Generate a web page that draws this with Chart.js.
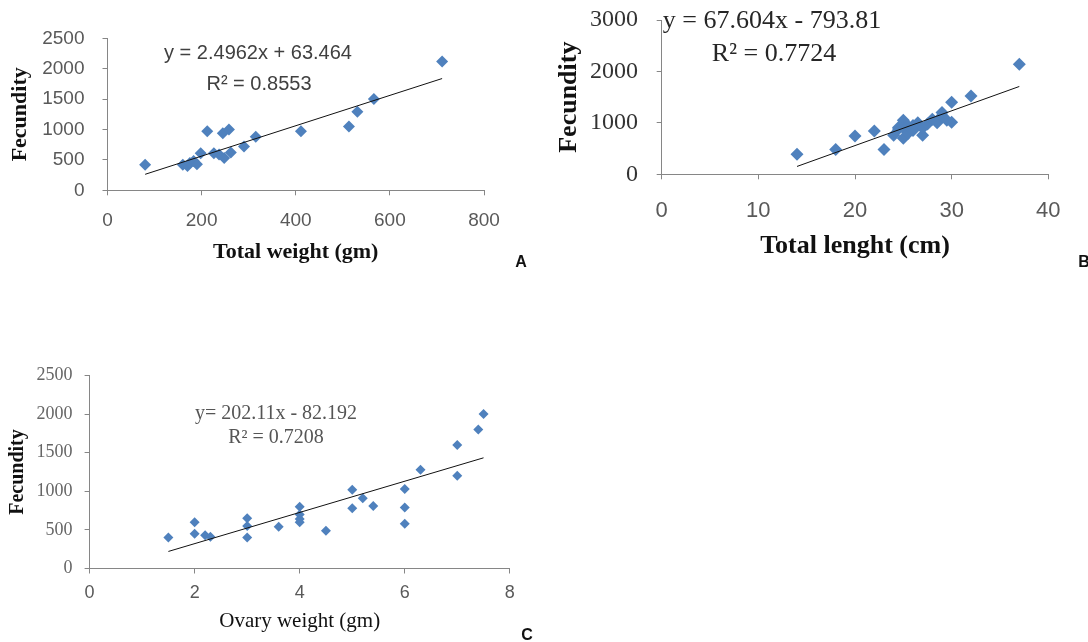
<!DOCTYPE html>
<html lang="en">
  <head>
    <meta charset="UTF-8" />
    <title>Fecundity relationships</title>
    <script src="https://cdn.jsdelivr.net/npm/chart.js"></script>
    <style>
      body {
        margin: 0;
        background: #fff;
        width: 1088px;
        height: 642px;
        position: relative;
        overflow: hidden;
      }
      canvas {
        position: absolute;
      }
      .note {
        position: absolute;
        white-space: nowrap;
        transform: translate(-50%, -50%);
        line-height: 1;
      }
      .eqA { font: 20px "Liberation Sans", Arial, sans-serif; color: #404040; }
      .eqB { font: 26px "Liberation Serif", "Times New Roman", serif; color: #262626; }
      .eqC { font: 20px "Liberation Serif", "Times New Roman", serif; color: #555; }
      .tag { font: bold 16px "Liberation Sans", Arial, sans-serif; color: #111; }
    </style>
  </head>
  <body>
    <canvas id="chartA" width="540" height="280" style="left:0;top:0"></canvas>
    <canvas id="chartB" width="548" height="280" style="left:540px;top:0"></canvas>
    <canvas id="chartC" width="540" height="302" style="left:0;top:340px"></canvas>

    <div class="note eqA" style="left:258px;top:52px">y = 2.4962x + 63.464</div>
    <div class="note eqA" style="left:259px;top:83px">R² = 0.8553</div>
    <div class="note eqB" style="left:772px;top:20px">y = 67.604x - 793.81</div>
    <div class="note eqB" style="left:774px;top:53px">R² = 0.7724</div>
    <div class="note eqC" style="left:276px;top:412px">y= 202.11x - 82.192</div>
    <div class="note eqC" style="left:276px;top:436px">R² = 0.7208</div>
    <div class="note tag" style="left:521px;top:262px">A</div>
    <div class="note tag" style="left:1084px;top:262px">B</div>
    <div class="note tag" style="left:527px;top:635px">C</div>

    <script>
      // A: total weight (gm) vs fecundity
      const weightX = [80, 160, 170, 175, 183, 190, 198, 212, 226, 237, 245, 248, 258, 262, 290, 315, 411, 513, 531, 566, 711];
      const weightFec = [420, 420, 400, 450, 480, 430, 610, 970, 610, 590, 940, 530, 1000, 620, 720, 880, 970, 1050, 1290, 1500, 2120];
      const weightFit = [2.4962, 63.464]; // slope, intercept
      const weightRange = [80, 711];

      // B: total length (cm) vs fecundity
      const lengthX = [14, 18, 20, 22, 23, 24, 24.5, 24.5, 25, 25, 25, 25.5, 25.5, 26, 26, 26.5, 27, 27, 27.5, 28, 28.5, 29, 29, 29.5, 30, 30, 32, 37];
      const lengthFec = [390, 480, 745, 840, 480, 760, 880, 910, 1050, 700, 900, 800, 940, 950, 850, 1000, 760, 900, 980, 1070, 1000, 1140, 1200, 1050, 1400, 1010, 1520, 2140];
      const lengthFit = [67.604, -793.81];
      const lengthRange = [14, 37];

      // C: ovary weight (gm) vs fecundity
      const ovaryX = [1.5, 2, 2, 2.2, 2.3, 3, 3, 3, 3.6, 4, 4, 4, 4, 4.5, 5, 5, 5.2, 5.4, 6, 6, 6, 6.3, 7, 7, 7.4, 7.5];
      const ovaryFec = [400, 600, 450, 430, 410, 650, 550, 400, 540, 800, 700, 640, 600, 490, 1020, 780, 910, 810, 1030, 790, 580, 1280, 1600, 1200, 1800, 2000];
      const ovaryFit = [202.11, -82.192];
      const ovaryRange = [1.5, 7.5];

      const blue = "#4F81BD";
      const axisGrey = "#868686";

      const pairs = (xs, ys) => xs.map((x, i) => ({ x: x, y: ys[i] }));
      const fitLine = (fit, range) => range.map((x) => ({ x: x, y: fit[0] * x + fit[1] }));
      const plain = (v) => String(v);

      function makeChart(id, s) {
        return new Chart(document.getElementById(id), {
          type: "scatter",
          data: {
            datasets: [
              {
                data: fitLine(s.fit, s.range),
                showLine: true,
                borderColor: "#111",
                borderWidth: 1,
                pointRadius: 0,
              },
              {
                data: pairs(s.xs, s.ys),
                pointStyle: "rectRot",
                pointRadius: s.radius,
                backgroundColor: blue,
                borderWidth: 0,
              },
            ],
          },
          options: {
            responsive: false,
            animation: false,
            devicePixelRatio: 1,
            layout: { padding: s.pad },
            plugins: { legend: { display: false }, tooltip: { enabled: false } },
            scales: {
              x: {
                min: s.xMin,
                max: s.xMax,
                ticks: { stepSize: s.xStep, font: s.xTickFont, color: "#595959", padding: s.xTickPad, callback: plain },
                grid: { drawOnChartArea: false, color: axisGrey, tickLength: 5 },
                border: { color: axisGrey },
                title: { display: true, text: s.xTitle, font: s.xTitleFont, color: "#111", padding: { top: 0, bottom: s.xTitlePad } },
                afterFit: (scale) => {
                  scale.height = s.xHeight;
                  scale.paddingLeft = 0;
                  scale.paddingRight = 0;
                },
              },
              y: {
                min: 0,
                max: s.yMax,
                ticks: { stepSize: s.yStep, font: s.yTickFont, color: s.yTickColor, padding: s.yTickPad, callback: plain },
                grid: { drawOnChartArea: false, color: axisGrey, tickLength: 5 },
                border: { color: axisGrey },
                title: { display: true, text: "Fecundity", font: s.yTitleFont, color: "#111", padding: { top: s.yTitlePad, bottom: 0 } },
                afterFit: (scale) => {
                  scale.width = s.yWidth;
                  scale.paddingTop = 0;
                  scale.paddingBottom = 0;
                },
              },
            },
          },
        });
      }

      const sans = "'Liberation Sans', Arial, sans-serif";
      const serif = "'Liberation Serif', 'Times New Roman', serif";

      makeChart("chartA", {
        xs: weightX, ys: weightFec, fit: weightFit, range: weightRange, radius: 6,
        pad: { left: 0, top: 38.3, right: 56, bottom: 0 },
        xMin: 0, xMax: 800, xStep: 200, yMax: 2500, yStep: 500,
        xTickFont: { family: sans, size: 19 }, xTickPad: 14,
        yTickFont: { family: sans, size: 19 }, yTickColor: "#595959", yTickPad: 18,
        xTitle: "Total weight (gm)", xTitleFont: { family: serif, size: 22, weight: "bold" }, xTitlePad: 14,
        yTitleFont: { family: serif, size: 22, weight: "bold" }, yTitlePad: 7,
        xHeight: 89.7, yWidth: 107.5,
      });

      makeChart("chartB", {
        xs: lengthX, ys: lengthFec, fit: lengthFit, range: lengthRange, radius: 6.5,
        pad: { left: 0, top: 20, right: 39.7, bottom: 0 },
        xMin: 0, xMax: 40, xStep: 10, yMax: 3000, yStep: 1000,
        xTickFont: { family: sans, size: 22 }, xTickPad: 18,
        yTickFont: { family: serif, size: 24 }, yTickColor: "#333", yTickPad: 18.7,
        xTitle: "Total lenght (cm)", xTitleFont: { family: serif, size: 26, weight: "bold" }, xTitlePad: 18,
        yTitleFont: { family: serif, size: 26, weight: "bold" }, yTitlePad: 14,
        xHeight: 105.7, yWidth: 121.7,
      });

      makeChart("chartC", {
        xs: ovaryX, ys: ovaryFec, fit: ovaryFit, range: ovaryRange, radius: 5,
        pad: { left: 0, top: 35.5, right: 30.2, bottom: 0 },
        xMin: 0, xMax: 8, xStep: 2, yMax: 2500, yStep: 500,
        xTickFont: { family: sans, size: 18 }, xTickPad: 9,
        yTickFont: { family: serif, size: 18 }, yTickColor: "#666", yTickPad: 12,
        xTitle: "Ovary weight (gm)", xTitleFont: { family: serif, size: 21 }, xTitlePad: 8,
        yTitleFont: { family: serif, size: 20, weight: "bold" }, yTitlePad: 6,
        xHeight: 73.5, yWidth: 89.6,
      });
    </script>
  </body>
</html>
